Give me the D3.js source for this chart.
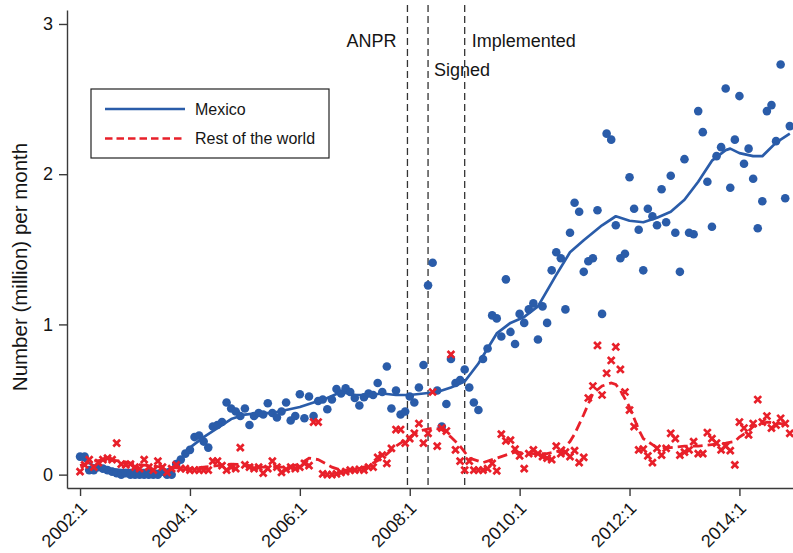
<!DOCTYPE html>
<html><head><meta charset="utf-8">
<script src="https://cdn.jsdelivr.net/npm/d3@7"></script>
<style>
html,body{margin:0;padding:0;background:#fff;}
svg{display:block;font-family:"Liberation Sans",Arial,Helvetica,sans-serif;}
</style></head><body>
<svg id="chart" width="793" height="553"></svg>
<script>
// ---- data (month index 0 = 2002:1) ----
const mexico = [
0.12,0.12,0.03,0.03,0.05,0.04,0.03,0.02,0.01,0.00,0.01,0.00,
0.00,0.00,0.00,0.00,0.00,0.00,0.02,0.00,0.00,0.07,0.10,0.14,
0.165,0.25,0.26,0.22,0.18,0.32,0.33,0.35,0.48,0.44,0.42,0.39,
0.44,0.33,0.39,0.41,0.40,0.475,0.41,0.38,0.42,0.48,0.36,0.39,
0.535,0.375,0.52,0.39,0.49,0.50,0.435,0.50,0.57,0.54,0.575,0.55,
0.51,0.46,0.515,0.54,0.53,0.61,0.55,0.72,0.44,0.56,0.40,0.42,
0.52,0.48,0.58,0.73,1.26,1.41,0.56,0.32,0.47,0.77,0.61,0.63,
0.70,0.58,0.48,0.43,0.77,0.84,1.06,1.04,0.92,1.30,0.95,0.87,
1.07,1.01,1.10,1.14,0.90,1.12,1.01,1.36,1.48,1.44,1.10,1.61,
1.81,1.75,1.35,1.42,1.44,1.76,1.07,2.27,2.23,1.66,1.44,1.47,
1.98,1.77,1.63,1.36,1.77,1.72,1.66,1.90,1.68,1.99,1.61,1.35,
2.10,1.61,1.60,2.42,2.28,1.95,1.65,2.12,2.18,2.57,1.91,2.23,
2.52,2.07,2.17,1.97,1.64,1.82,2.42,2.46,2.22,2.73,1.84,2.32];

const restOfWorld = [
0.02,0.065,0.10,0.05,0.08,0.10,0.11,0.10,0.21,0.07,0.065,0.07,
0.05,0.04,0.10,0.05,0.03,0.09,0.05,0.015,0.04,0.065,0.04,0.04,
0.03,0.03,0.03,0.03,0.03,0.09,0.09,0.06,0.03,0.05,0.04,0.18,
0.065,0.05,0.04,0.05,0.01,0.04,0.09,0.05,0.015,0.035,0.05,0.04,
0.05,0.075,0.06,0.35,0.35,0.005,0.00,0.00,0.005,0.015,0.02,0.03,
0.03,0.035,0.03,0.05,0.05,0.115,0.13,0.075,0.175,0.30,0.30,0.21,
0.24,0.275,0.34,0.21,0.275,0.55,0.19,0.31,0.29,0.80,0.165,0.09,
0.03,0.09,0.03,0.03,0.03,0.04,0.075,0.025,0.27,0.225,0.23,0.17,
0.125,0.04,0.14,0.165,0.14,0.12,0.11,0.10,0.19,0.14,0.15,0.12,
0.16,0.08,0.115,0.51,0.59,0.86,0.53,0.675,0.76,0.85,0.70,0.55,
0.43,0.32,0.165,0.17,0.125,0.08,0.175,0.13,0.175,0.275,0.24,0.13,
0.15,0.165,0.22,0.14,0.14,0.28,0.24,0.21,0.165,0.19,0.16,0.065,
0.35,0.31,0.265,0.34,0.50,0.35,0.39,0.31,0.33,0.375,0.34,0.275];

const mexicoTrendMonth = [0,3,6,9,12,15,18,21,24,27,30,33,36,39,42,45,48,51,54,57,60,63,66,69,72,75,78,81,84,87,91,94,97,100,104,107,110,114,117,120,123,126,129,132,135,138,141,142,144,147,149,152,155];
const mexicoTrendValue = [0.11,0.06,0.04,0.03,0.03,0.03,0.02,0.06,0.18,0.25,0.31,0.37,0.40,0.41,0.41,0.43,0.45,0.48,0.51,0.55,0.53,0.53,0.54,0.53,0.53,0.54,0.55,0.58,0.62,0.74,0.94,1.01,1.05,1.12,1.33,1.48,1.56,1.66,1.72,1.69,1.68,1.71,1.75,1.83,1.95,2.09,2.16,2.17,2.14,2.12,2.12,2.21,2.27];

const rowTrendMonth = [0,3,6,9,12,15,18,21,24,27,30,33,36,39,42,45,48,50,52,55,57,60,63,66,69,71,74,77,79,81,83,85,88,92,95,99,102,105,107,108,110,112,114,116,117,118,120,122,123,125,126,129,132,135,138,141,143,144,146,147,150,153,155];
const rowTrendValue = [0.06,0.09,0.10,0.09,0.07,0.06,0.05,0.045,0.04,0.05,0.06,0.07,0.065,0.05,0.05,0.05,0.07,0.11,0.10,0.05,0.03,0.03,0.06,0.11,0.19,0.23,0.29,0.31,0.30,0.25,0.19,0.11,0.08,0.12,0.15,0.14,0.14,0.16,0.22,0.27,0.40,0.54,0.59,0.61,0.60,0.56,0.45,0.30,0.24,0.20,0.18,0.18,0.19,0.19,0.20,0.21,0.22,0.25,0.29,0.32,0.35,0.34,0.33];

const xTickMonths = [0,24,48,72,96,120,144];
const xTickLabels = ["2002:1","2004:1","2006:1","2008:1","2010:1","2012:1","2014:1"];
const yTickValues = [0,1,2,3];
const eventNames = ["ANPR","Signed","Implemented"];
const eventMonths = [71.5,76,84];
const seriesNames = ["Mexico","Rest of the world"];

// ---- drawing ----
const BLUE = "#2a5ca9", RED = "#e8202a", AX = "#3a3a3a", TXT = "#151515";
const svg = d3.select("#chart");
const x = d3.scaleLinear().domain([-2.85,155.7]).range([67,793]);
const y = d3.scaleLinear().domain([-0.089,3.093]).range([488,10]);

// event lines
const evLayout = [{anchor:"end",dx:-11,ty:47},{anchor:"start",dx:6,ty:76},{anchor:"start",dx:7,ty:47}];
eventMonths.forEach((m,i)=>{
  svg.append("line").attr("x1",x(m)).attr("x2",x(m)).attr("y1",5).attr("y2",488)
    .attr("stroke","#333").attr("stroke-width",1.3).attr("stroke-dasharray","7,4");
  svg.append("text").attr("x",x(m)+evLayout[i].dx).attr("y",evLayout[i].ty)
    .attr("text-anchor",evLayout[i].anchor).attr("font-size",18).attr("fill",TXT).text(eventNames[i]);
});

// axes
const yAxis = svg.append("g").attr("transform",`translate(67,0)`)
  .call(d3.axisLeft(y).tickValues(yTickValues).tickSize(8).tickSizeOuter(0).tickPadding(6).tickFormat(d3.format("d")));
yAxis.select(".domain").attr("stroke",AX).attr("stroke-width",1.4);
yAxis.selectAll(".tick line").attr("stroke",AX).attr("stroke-width",1.4);
yAxis.selectAll(".tick text").attr("font-size",18).attr("fill",TXT).attr("font-family","Liberation Sans,Arial,sans-serif");

const xAxis = svg.append("g").attr("transform",`translate(0,488)`)
  .call(d3.axisBottom(x).tickValues(xTickMonths).tickSize(8).tickSizeOuter(0).tickFormat(""));
xAxis.select(".domain").attr("stroke",AX).attr("stroke-width",1.4);
xAxis.selectAll(".tick line").attr("stroke",AX).attr("stroke-width",1.4);
xTickMonths.forEach((m,i)=>{
  svg.append("text").attr("transform",`translate(${x(m)+3.5},505) rotate(-45)`)
    .attr("text-anchor","end").attr("dy","0.35em").attr("font-size",18).attr("fill",TXT).text(xTickLabels[i]);
});

// y title
svg.append("text").attr("transform","translate(27,267) rotate(-90)").attr("text-anchor","middle")
  .attr("font-size",20.5).attr("fill",TXT).text("Number (million) per month");

// Mexico dots
svg.append("g").selectAll("circle").data(mexico).join("circle")
  .attr("cx",(d,i)=>x(i)).attr("cy",d=>y(d)).attr("r",4.3).attr("fill",BLUE);
// Mexico trend
const line = d3.line().x(d=>x(d[0])).y(d=>y(d[1]));
svg.append("path").datum(mexicoTrendMonth.map((m,i)=>[m,mexicoTrendValue[i]]))
  .attr("d",line).attr("fill","none").attr("stroke",BLUE).attr("stroke-width",2.7).attr("stroke-linejoin","round");
// RoW crosses
const cs = 3.4;
svg.append("g").selectAll("path").data(restOfWorld).join("path")
  .attr("d",(d,i)=>{const cx=x(i),cy=y(d);return `M${cx-cs},${cy-cs}L${cx+cs},${cy+cs}M${cx-cs},${cy+cs}L${cx+cs},${cy-cs}`;})
  .attr("stroke",RED).attr("stroke-width",2.7).attr("fill","none");
// RoW trend
svg.append("path").datum(rowTrendMonth.map((m,i)=>[m,rowTrendValue[i]]))
  .attr("d",line).attr("fill","none").attr("stroke",RED).attr("stroke-width",2.8).attr("stroke-dasharray","10,5");

// legend
const lg = svg.append("g");
lg.append("rect").attr("x",91).attr("y",89).attr("width",238).attr("height",69).attr("fill","#fff").attr("stroke","#222").attr("stroke-width",1.2);
const legendStyles = [{c:BLUE,dash:null},{c:RED,dash:"7.5,4"}];
seriesNames.forEach((s,i)=>{
  const ly = 109 + i*29.5;
  const l = lg.append("line").attr("x1",105).attr("x2",185).attr("y1",ly).attr("y2",ly)
    .attr("stroke",legendStyles[i].c).attr("stroke-width",2.7);
  if(legendStyles[i].dash) l.attr("stroke-dasharray",legendStyles[i].dash);
  lg.append("text").attr("x",195).attr("y",ly).attr("dy","0.35em").attr("font-size",16).attr("fill",TXT).text(s);
});
</script>
</body></html>
